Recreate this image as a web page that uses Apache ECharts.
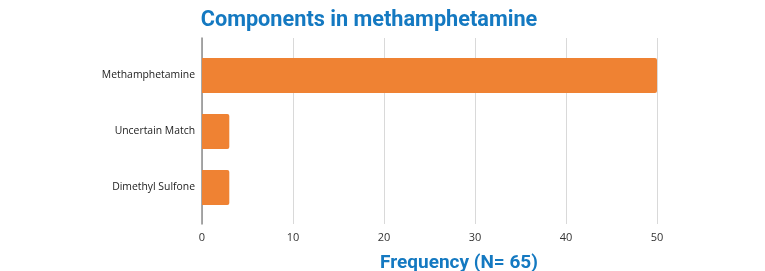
<!DOCTYPE html>
<html>
<head>
    <meta charset="utf-8">
    <title>Components in methamphetamine</title>
    <style>
        html, body { margin: 0; padding: 0; background: #fff; }
        #chart { width: 765px; height: 271px; }
    </style>
</head>
<body>
    <div id="chart"></div>
    <script src="https://cdn.jsdelivr.net/npm/echarts@6/dist/echarts.min.js"></script>
    <script>
        // 数据
        var categories = ['Dimethyl Sulfone', 'Uncertain Match', 'Methamphetamine'];
        var frequency = [3, 3, 50];
        var xTicks = [0, 10, 20, 30, 40, 50];

        var blue = '#1479c1';
        var orange = '#ef8233';
        var font = 'Open Sans';

        var chart = echarts.init(document.getElementById('chart'));
        var option = {
            animation: false,
            title: [{
                text: 'Components in methamphetamine',
                left: 364, top: 5, textAlign: 'center',
                textStyle: { color: blue, fontSize: 21.7, fontWeight: 'bold', fontFamily: 'Roboto' }
            }, {
                text: 'Frequency (N= 65)',
                left: 454, top: 249, textAlign: 'center',
                textStyle: { color: blue, fontSize: 19, fontWeight: 'bold', fontFamily: 'Roboto' }
            }],
            grid: [
                // 网格线和坐标轴
                { left: 202, right: 108, top: 38, bottom: 47 },
                // 柱子
                { left: 202, right: 108, top: 47.5, height: 168 }
            ],
            xAxis: [{
                gridIndex: 0, type: 'value', min: xTicks[0], max: xTicks[xTicks.length - 1], interval: 10,
                axisLine: { show: false }, axisTick: { show: false },
                axisLabel: { color: '#333', fontSize: 11, fontFamily: font, margin: 8 },
                splitLine: { lineStyle: { color: '#d9d9d9', width: 1 } }
            }, {
                gridIndex: 1, type: 'value', min: 0, max: 50, interval: 10,
                axisLine: { show: false }, axisTick: { show: false },
                axisLabel: { show: false }, splitLine: { show: false }
            }],
            yAxis: [{
                gridIndex: 0, type: 'category', data: categories,
                axisLine: { lineStyle: { color: '#8c8c8c', width: 1.5 } },
                axisTick: { show: false }, axisLabel: { show: false }
            }, {
                gridIndex: 1, type: 'category', data: categories,
                axisLine: { show: false }, axisTick: { show: false },
                axisLabel: { color: '#222', fontSize: 10.4, fontFamily: font, margin: 7 }
            }],
            series: [{
                type: 'bar',
                xAxisIndex: 1, yAxisIndex: 1,
                data: frequency,
                barWidth: 35,
                itemStyle: { color: orange, borderRadius: [0, 2, 2, 0] }
            }]
        };
        chart.setOption(option);
        window.addEventListener('resize', function () {
            chart.resize();
        });
    </script>
</body>
</html>
